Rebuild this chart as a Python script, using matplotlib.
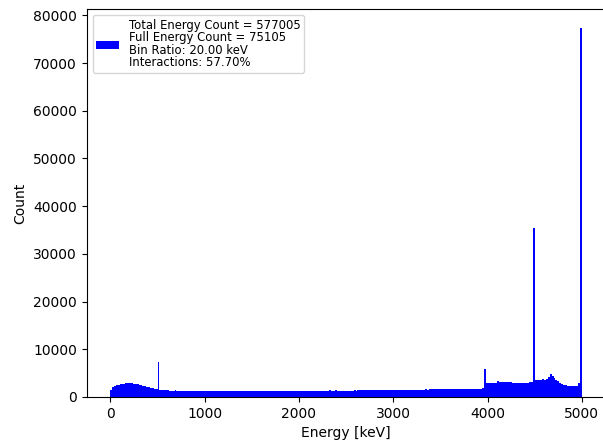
import numpy as np
import matplotlib
matplotlib.use('Agg')
import matplotlib.pyplot as plt

# 20 keV bins from 0 to 5000 keV (counts)
bin_width = 20
edges = np.arange(0, 5000 + bin_width, bin_width)
counts = [
    1500, 2050, 2300, 2450, 2550, 2650, 2750, 2800, 2850, 2900,
    2900, 2850, 2800, 2750, 2650, 2550, 2450, 2350, 2250, 2150,
    2050, 1950, 1850, 1750, 1700, 7300, 1480, 1420, 1390, 1370,
    1400, 1330, 1320, 1300, 1380, 1270, 1260, 1250, 1240, 1240,
    1230, 1220, 1210, 1210, 1200, 1200, 1190, 1190, 1180, 1180,
    1170, 1300, 1170, 1160, 1170, 1160, 1160, 1160, 1150, 1160,
    1160, 1150, 1160, 1150, 1150, 1160, 1150, 1150, 1140, 1150,
    1150, 1280, 1150, 1140, 1150, 1150, 1140, 1150, 1150, 1140,
    1150, 1140, 1150, 1150, 1160, 1150, 1160, 1150, 1160, 1170,
    1160, 1170, 1170, 1180, 1170, 1190, 1180, 1190, 1200, 1200,
    1210, 1200, 1220, 1210, 1230, 1220, 1240, 1230, 1240, 1250,
    1250, 1260, 1250, 1270, 1260, 1280, 1350, 1280, 1290, 1360,
    1300, 1310, 1300, 1320, 1310, 1330, 1320, 1340, 1330, 1350,
    1340, 1360, 1350, 1370, 1360, 1380, 1370, 1390, 1380, 1400,
    1400, 1410, 1420, 1410, 1430, 1420, 1440, 1430, 1450, 1460,
    1460, 1470, 1460, 1480, 1490, 1480, 1500, 1490, 1510, 1500,
    1520, 1510, 1530, 1520, 1540, 1550, 1540, 1560, 1550, 1570,
    1570, 1580, 1590, 1580, 1600, 1610, 1600, 1620, 1610, 1630,
    1640, 1630, 1650, 1660, 1650, 1670, 1680, 1670, 1690, 1700,
    1710, 1700, 1720, 1730, 1750, 1740, 1760, 1770, 5900, 2900,
    2850, 2880, 2900, 2870, 2950, 3250, 3100, 3150, 3100, 3100,
    3080, 3050, 3050, 3000, 3000, 2980, 2950, 2950, 2930, 2950,
    2950, 3000, 3050, 3100, 35400, 3500, 3600, 3650, 3600, 3700,
    3650, 3800, 4200, 4800, 4300, 4000, 3600, 3300, 3000, 2700,
    2500, 2400, 2350, 2300, 2300, 2300, 2300, 2350, 2900, 77400,
]

total_count = 577005
full_energy_count = 75105
interactions = 57.70

label = ("Total Energy Count = " + str(total_count) + "\n"
         "Full Energy Count = " + str(full_energy_count) + "\n"
         "Bin Ratio: %.2f keV" % bin_width + "\n"
         "Interactions: %.2f%%" % interactions)

fig = plt.figure(figsize=(6.03, 4.44), dpi=100)
ax = fig.add_subplot(111)
fig.subplots_adjust(left=0.144, right=1.004, top=0.979, bottom=0.106)

centers = edges[:-1] + bin_width / 2
ax.hist(centers, bins=edges, weights=counts, color='blue', label=label)

ax.set_xlabel('Energy [keV]')
ax.set_ylabel('Count')
leg = ax.legend(loc='upper left', fontsize=8.4, borderpad=0.3)
for t in leg.get_texts():
    t.set_linespacing(0.95)

plt.savefig('out.png', dpi=100)
